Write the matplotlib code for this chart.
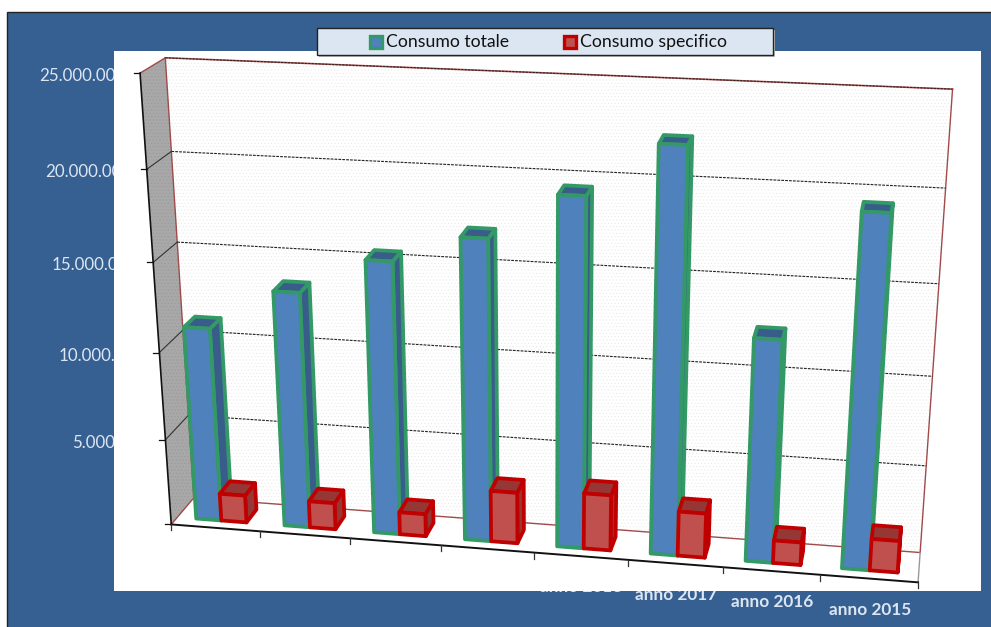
import numpy as np
import matplotlib
matplotlib.use('Agg')
import matplotlib.pyplot as plt
from matplotlib.patches import Polygon, Rectangle

plt.rcParams['font.family'] = ['Lato', 'DejaVu Sans']

anni = ['anno 2022', 'anno 2021', 'anno 2020', 'anno 2019',
        'anno 2018', 'anno 2017', 'anno 2016', 'anno 2015']
consumo_totale = [11150000, 13450000, 15450000, 16950000,
                  19450000, 22300000, 12450000, 19350000]
consumo_specifico = [1600000, 1550000, 1300000, 2950000,
                     3200000, 2550000, 1300000, 1800000]
tick_valori = [25000000, 20000000, 15000000, 10000000, 5000000]
tick_testi = ['25.000.000', '20.000.000', '15.000.000', '10.000.000', '5.000.000']
tick_sinistra = [39, 45, 52, 59, 72]
ZMAX = 25000000

BLU = '#376092'
BAR_W = 1 / 3.5

# fit of the 3d perspective: (categoria, profondita, quota 0-1) -> pixel
cubo = [(0, 0, 0), (0, 1, 0), (8, 1, 0), (8, 0, 0), (0, 0, 1), (0, 1, 1), (8, 1, 1),
        (0, 0, .8), (0, 0, .6), (0, 0, .4), (0, 0, .2),
        (0, 1, .8), (0, 1, .6), (0, 1, .4), (0, 1, .2),
        (8, 1, .8), (8, 1, .6), (8, 1, .4), (8, 1, .2)]
pixel = [(172, 524), (194, 497), (920, 553), (918, 583), (140, 73), (166, 58), (953, 90),
         (146, 170), (153, 262), (159, 352), (166, 440),
         (172, 151), (177, 241), (182, 331), (188, 417),
         (945, 188), (939, 283), (933, 376), (926, 465)]

A, b = [], []
for (cx, cy, cz), (u, v) in zip(cubo, pixel):
    X, Y, Z = cx / 8, cy, cz
    A.append([X, Y, Z, 1, 0, 0, 0, 0, -u * X, -u * Y, -u * Z])
    b.append(u)
    A.append([0, 0, 0, 0, X, Y, Z, 1, -v * X, -v * Y, -v * Z])
    b.append(v)
P = np.linalg.lstsq(np.array(A, float), np.array(b, float), rcond=None)[0]


def proj(cat, dep, val):
    X, Y, Z = cat / 8, dep, val / ZMAX
    w = P[8] * X + P[9] * Y + P[10] * Z + 1
    return ((P[0] * X + P[1] * Y + P[2] * Z + P[3]) / w,
            (P[4] * X + P[5] * Y + P[6] * Z + P[7]) / w)


def faccia(ax, pts, **kw):
    ax.add_patch(Polygon([proj(*p) for p in pts], closed=True, **kw))


def linea(ax, p, q, **kw):
    a, b = proj(*p), proj(*q)
    ax.plot([a[0], b[0]], [a[1], b[1]], **kw)


def barra(ax, x0, val, front, dark, edge):
    x1 = x0 + BAR_W
    d0, d1 = .27, .75
    kw = dict(edgecolor=edge, linewidth=2.7, joinstyle='round', zorder=5)
    faccia(ax, [(x1, d0, 0), (x1, d1, 0), (x1, d1, val), (x1, d0, val)], facecolor=dark, **kw)
    faccia(ax, [(x0, d0, val), (x1, d0, val), (x1, d1, val), (x0, d1, val)], facecolor=dark, **kw)
    faccia(ax, [(x0, d0, 0), (x1, d0, 0), (x1, d0, val), (x0, d0, val)], facecolor=front, **kw)


fig = plt.figure(figsize=(9.91, 6.27), dpi=100)
ax = fig.add_axes([0, 0, 1, 1])
ax.set_xlim(0, 991)
ax.set_ylim(627, 0)
ax.axis('off')

# background panel, labels sit under the white plot area and get cut by it
ax.add_patch(Rectangle((7, 12), 990, 620, facecolor=BLU, edgecolor='#222222', linewidth=1, zorder=0))
for val, txt, left in zip(tick_valori, tick_testi, tick_sinistra):
    ax.text(left, proj(0, 0, val)[1] + 3, txt, color='#dce6f2', fontsize=12.2,
            ha='left', va='center', zorder=1)
for i, nome in enumerate(anni):
    cx, cy = proj(i + .5, 0, 0)
    ax.text(cx + 1, cy + 31, nome, color='#dce6f2', fontsize=12.4,
            fontweight='bold', ha='center', va='center', zorder=1)
ax.add_patch(Rectangle((114, 51), 867, 540, facecolor='white', edgecolor='none', zorder=2))

# walls
plt.rcParams['hatch.linewidth'] = .3
faccia(ax, [(0, 1, 0), (8, 1, 0), (8, 1, ZMAX), (0, 1, ZMAX)], facecolor='white',
       edgecolor='#e6e6e6', hatch='.....', linewidth=0, zorder=3)
faccia(ax, [(0, 0, 0), (0, 1, 0), (0, 1, ZMAX), (0, 0, ZMAX)], facecolor='#a8a8a8',
       edgecolor='#969696', hatch='.....', linewidth=0, zorder=3)

ROSSO = '#a04a4a'
for p, q in [((0, 1, 0), (8, 1, 0)), ((8, 1, 0), (8, 1, ZMAX)), ((0, 1, 0), (0, 1, ZMAX)),
             ((0, 1, 0), (0, 0, 0)), ((0, 0, ZMAX), (0, 1, ZMAX))]:
    linea(ax, p, q, color=ROSSO, linewidth=1, zorder=4)
linea(ax, (0, 1, ZMAX), (8, 1, ZMAX), color='#b05050', linewidth=1.2, zorder=4)
linea(ax, (0, 1, ZMAX), (8, 1, ZMAX), color='#222222', linewidth=.7, linestyle=(0, (2.5, 1)), zorder=4)
linea(ax, (8, 1, 0), (8, 0, 0), color='#999999', linewidth=1, zorder=4)

# gridlines
for val in tick_valori[1:]:
    linea(ax, (0, 1, val), (8, 1, val), color='#222222', linewidth=.8, linestyle=(0, (2.5, 1)), zorder=4)
    linea(ax, (0, 0, val), (0, 1, val), color='#333333', linewidth=.8, zorder=4)

# axes and ticks
linea(ax, (0, 0, 0), (0, 0, ZMAX), color='#111111', linewidth=1.2, zorder=4)
linea(ax, (0, 0, 0), (8, 0, 0), color='#111111', linewidth=1.4, zorder=4)
for val in tick_valori + [0]:
    tx, ty = proj(0, 0, val)
    ax.plot([tx - 6, tx], [ty, ty], color='#111111', linewidth=.9, zorder=4)
for i in range(9):
    tx, ty = proj(i, 0, 0)
    ax.plot([tx, tx], [ty, ty + 6], color='#333333', linewidth=.9, zorder=4)

# bars
for i in range(len(anni)):
    x0 = i + .75 / 3.5
    barra(ax, x0, consumo_totale[i], '#4f81bd', '#385d8a', '#339966')
    barra(ax, x0 + BAR_W, consumo_specifico[i], '#c0504d', '#953735', '#c00000')

# legend
ax.add_patch(Rectangle((319, 30), 456, 27, facecolor='#bbbbbb', edgecolor='none', zorder=6))
ax.add_patch(Rectangle((317, 28), 456, 27, facecolor='#dce6f2', edgecolor='#222222', linewidth=1, zorder=7))
for sx, tx, fc, ec, nome in [(370, 386, '#4f81bd', '#339966', 'Consumo totale'),
                             (564, 580, '#c0504d', '#c00000', 'Consumo specifico')]:
    ax.add_patch(Rectangle((sx, 36), 12, 12, facecolor=fc, edgecolor=ec, linewidth=2.4, zorder=8))
    ax.text(tx, 42, nome, color='#111111', fontsize=12.7, ha='left', va='center', zorder=8)

fig.savefig('out.png', dpi=100)
